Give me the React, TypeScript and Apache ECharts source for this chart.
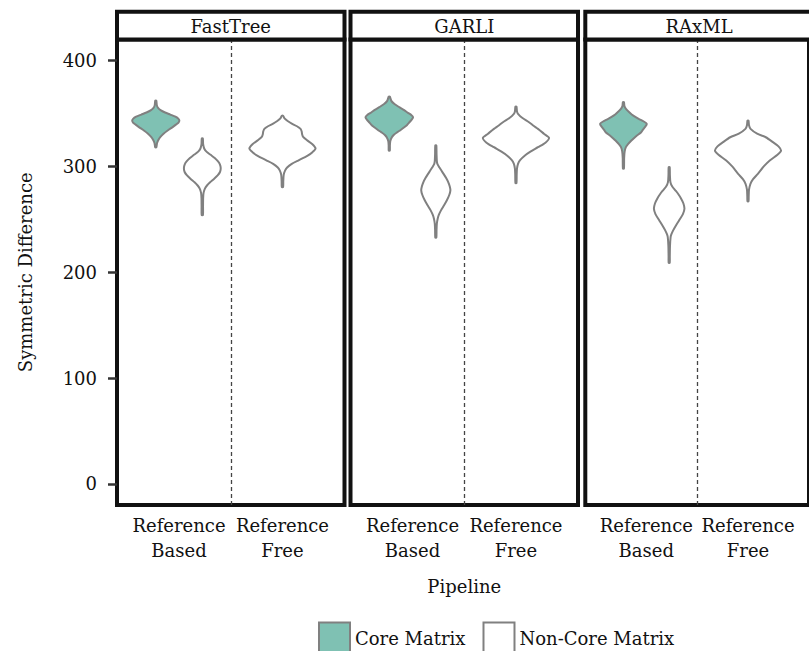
import React, { useEffect, useRef } from "react";
import * as echarts from "echarts";

// ---------- data ----------
const panels = ["FastTree", "GARLI", "RAxML"];
const pipelines = ["Reference\nBased", "Reference\nFree"];
const yTicks = [0, 100, 200, 300, 400];
const groups = ["Core Matrix", "Non-Core Matrix"];

// violin density profiles: [symmetric difference, half width (x units)]
const fastTreeCoreBased = [
  [318, 0.005], [322, 0.012], [325, 0.025], [328, 0.045], [331, 0.075], [334, 0.115],
  [337, 0.16], [339.5, 0.195], [341.5, 0.22], [343.4, 0.228], [345, 0.22], [347, 0.19],
  [349, 0.14], [351, 0.09], [353, 0.05], [355.7, 0.02], [358, 0.01], [362.3, 0.005],
];
const fastTreeNonCoreBased = [
  [254, 0.006], [262, 0.007], [270, 0.008], [275, 0.012], [279, 0.025], [282, 0.045],
  [285, 0.075], [288, 0.11], [291.5, 0.148], [295, 0.172], [298.5, 0.178], [302, 0.17],
  [305, 0.15], [308, 0.12], [311, 0.08], [314, 0.04], [317, 0.018], [321, 0.008], [326.4, 0.005],
];
const fastTreeNonCoreFree = [
  [280.5, 0.006], [286, 0.008], [292, 0.012], [296, 0.025], [299, 0.045], [302.5, 0.09],
  [306, 0.16], [310, 0.24], [313.5, 0.29], [317, 0.32], [321, 0.29], [325, 0.235],
  [328, 0.2], [330.5, 0.19], [333, 0.186], [335.5, 0.175], [338, 0.14], [340.5, 0.09],
  [343, 0.05], [345.5, 0.02], [348, 0.005],
];
const garliCoreBased = [
  [315, 0.005], [320, 0.006], [324, 0.01], [327.6, 0.025], [330, 0.045], [332.4, 0.078],
  [334.5, 0.11], [337, 0.145], [339, 0.17], [341.8, 0.195], [344, 0.215], [346.5, 0.23],
  [348.5, 0.215], [351, 0.175], [353.5, 0.14], [356, 0.097], [359, 0.05], [362, 0.02], [366, 0.005],
];
const garliNonCoreBased = [
  [232.7, 0.005], [240, 0.007], [246, 0.01], [250.6, 0.018], [254, 0.028], [258.5, 0.05],
  [263, 0.078], [268, 0.107], [273, 0.13], [277.4, 0.141], [281, 0.135], [285.2, 0.12],
  [289, 0.1], [293, 0.075], [296, 0.055], [299, 0.035], [302.5, 0.015], [305, 0.01],
  [312, 0.007], [319.8, 0.005],
];
const garliNonCoreFree = [
  [284.3, 0.005], [292, 0.007], [298, 0.01], [302.5, 0.02], [306, 0.04], [310.4, 0.087],
  [314, 0.14], [318.2, 0.213], [322.5, 0.285], [327, 0.32], [331, 0.27], [335.5, 0.213],
  [338.5, 0.17], [341.8, 0.126], [346, 0.06], [349.7, 0.02], [352, 0.01], [356.6, 0.005],
];
const raxmlCoreBased = [
  [298, 0.005], [308, 0.007], [314, 0.012], [318.2, 0.024], [321, 0.045], [324.5, 0.078],
  [326.5, 0.1], [329, 0.13], [332.4, 0.175], [334.5, 0.19], [337, 0.21], [340.3, 0.23],
  [342.5, 0.2], [345, 0.15], [348, 0.097], [351, 0.06], [354.4, 0.025], [357, 0.01], [360.7, 0.005],
];
const raxmlNonCoreBased = [
  [208.8, 0.005], [215, 0.006], [225, 0.008], [233.3, 0.014], [236, 0.022], [239.6, 0.039],
  [244, 0.065], [249, 0.097], [255, 0.135], [260, 0.15], [265, 0.14], [270, 0.115],
  [274.2, 0.087], [277.5, 0.06], [281, 0.03], [285.2, 0.012], [292, 0.007], [299.4, 0.005],
];
const raxmlNonCoreFree = [
  [267, 0.005], [272, 0.007], [278, 0.01], [283.6, 0.024], [288, 0.05], [293, 0.097],
  [300, 0.155], [305.7, 0.214], [311, 0.29], [315, 0.325], [319, 0.3], [323, 0.245],
  [327.6, 0.175], [331, 0.09], [335.5, 0.025], [339, 0.01], [343.4, 0.005],
];

// per panel: core violins at "Reference Based"; non-core at both pipelines
const coreProfiles = [[fastTreeCoreBased], [garliCoreBased], [raxmlCoreBased]];
const nonCoreProfiles = [
  [fastTreeNonCoreBased, fastTreeNonCoreFree],
  [garliNonCoreBased, garliNonCoreFree],
  [raxmlNonCoreBased, raxmlNonCoreFree],
];
// x positions (pipeline index 1/2 with dodge)
const corePositions = [[0.775], [0.775], [0.775]];
const nonCorePositions = [[1.225, 2], [1.225, 2], [1.225, 2]];

// ---------- styling ----------
const FONT = '"DejaVu Serif", serif';
const FS = 18;
const TEXT = "#111111";
const TEAL = "#7fc1b3";
const OUTLINE = "#808080";
const FRAME = "#111111";

const panelLeft = [117, 350.5, 585.3];
const panelWidth = 227.5;
const gridTop = 39.5;
const gridHeight = 465.5;
const stripTop = 11.7;

function violinRender(profiles: number[][][]) {
  return (params: any, api: any) => {
    const idx = api.value(1);
    const xc = api.value(0);
    const prof = profiles[idx];
    const right = prof.map((p) => api.coord([xc + p[1], p[0]]));
    const left = prof
      .slice()
      .reverse()
      .map((p) => api.coord([xc - p[1], p[0]]));
    return {
      type: "polygon",
      shape: { points: right.concat(left), smooth: 0.25 },
      style: api.style(),
    };
  };
}

export default function App() {
  const ref = useRef<HTMLDivElement>(null);
  useEffect(() => {
    if (!ref.current) return;
    const chart = echarts.init(ref.current, null, { renderer: "svg" });

    const grid = panels.map((_, i) => ({
      left: panelLeft[i],
      top: gridTop,
      width: panelWidth,
      height: gridHeight,
      show: true,
      borderColor: FRAME,
      borderWidth: 4,
      backgroundColor: "transparent",
    }));

    const xAxis = panels.map((_, i) => ({
      type: "value",
      gridIndex: i,
      min: 0.4,
      max: 2.6,
      axisLine: { show: false },
      axisTick: { show: false },
      splitLine: { show: false },
      axisLabel: {
        customValues: [1, 2],
        formatter: (v: number) => pipelines[Math.round(v) - 1],
        fontFamily: FONT,
        fontSize: FS,
        lineHeight: 25,
        color: TEXT,
        margin: 8,
      },
      ...(i === 1
        ? {
            name: "Pipeline",
            nameLocation: "middle",
            nameGap: 72,
            nameTextStyle: { fontFamily: FONT, fontSize: FS, color: TEXT },
          }
        : {}),
    }));

    const yAxis = panels.map((_, i) => ({
      type: "value",
      gridIndex: i,
      min: -20,
      max: 420,
      axisLine: { show: false },
      splitLine: { show: false },
      axisTick: {
        show: i === 0,
        customValues: yTicks,
        length: 9,
        lineStyle: { color: "#333", width: 2.5 },
      },
      axisLabel: {
        show: i === 0,
        customValues: yTicks,
        margin: 20,
        fontFamily: FONT,
        fontSize: FS,
        color: TEXT,
      },
      ...(i === 0
        ? {
            name: "Symmetric Difference",
            nameLocation: "middle",
            nameGap: 83,
            nameTextStyle: { fontFamily: FONT, fontSize: FS, color: TEXT },
          }
        : {}),
    }));

    const series: any[] = [];
    panels.forEach((_, i) => {
      series.push({
        type: "custom",
        name: groups[0],
        xAxisIndex: i,
        yAxisIndex: i,
        itemStyle: { color: TEAL, borderColor: OUTLINE, borderWidth: 2 },
        renderItem: violinRender(coreProfiles[i]),
        data: corePositions[i].map((x, k) => [x, k]),
        encode: { x: 0, y: -1 },
        markLine: {
          silent: true,
          symbol: ["none", "none"],
          label: { show: false },
          lineStyle: { type: [4, 3], color: "#444", width: 1.3 },
          data: [{ xAxis: 1.5 }],
        },
        z: 3,
      });
      series.push({
        type: "custom",
        name: groups[1],
        xAxisIndex: i,
        yAxisIndex: i,
        itemStyle: { color: "#ffffff", borderColor: OUTLINE, borderWidth: 2 },
        renderItem: violinRender(nonCoreProfiles[i]),
        data: nonCorePositions[i].map((x, k) => [x, k]),
        encode: { x: 0, y: -1 },
        z: 3,
      });
    });

    const graphic: any[] = [];
    panels.forEach((name, i) => {
      graphic.push({
        type: "rect",
        shape: { x: panelLeft[i], y: stripTop, width: panelWidth, height: gridTop - stripTop },
        style: { fill: "#ffffff", stroke: FRAME, lineWidth: 4 },
        z: 10,
      });
      graphic.push({
        type: "text",
        x: panelLeft[i] + panelWidth / 2,
        y: (stripTop + gridTop) / 2 + 1,
        style: {
          text: name,
          align: "center",
          verticalAlign: "middle",
          fontFamily: FONT,
          fontSize: FS,
          fill: TEXT,
        },
        z: 11,
      });
    });

    chart.setOption({
      animation: false,
      backgroundColor: "#ffffff",
      grid,
      xAxis,
      yAxis,
      series,
      graphic,
      legend: {
        left: 318,
        top: 621.5,
        padding: 0,
        icon: "rect",
        itemWidth: 31,
        itemHeight: 31,
        itemGap: 17,
        selectedMode: false,
        textStyle: { fontFamily: FONT, fontSize: FS, color: TEXT },
        data: [
          { name: groups[0], itemStyle: { color: TEAL, borderColor: OUTLINE, borderWidth: 2 } },
          { name: groups[1], itemStyle: { color: "#ffffff", borderColor: OUTLINE, borderWidth: 2 } },
        ],
      },
    });
    return () => chart.dispose();
  }, []);

  return (
    <div
      ref={ref}
      style={{ position: "absolute", left: 0, top: 0, width: 809, height: 651 }}
    />
  );
}
